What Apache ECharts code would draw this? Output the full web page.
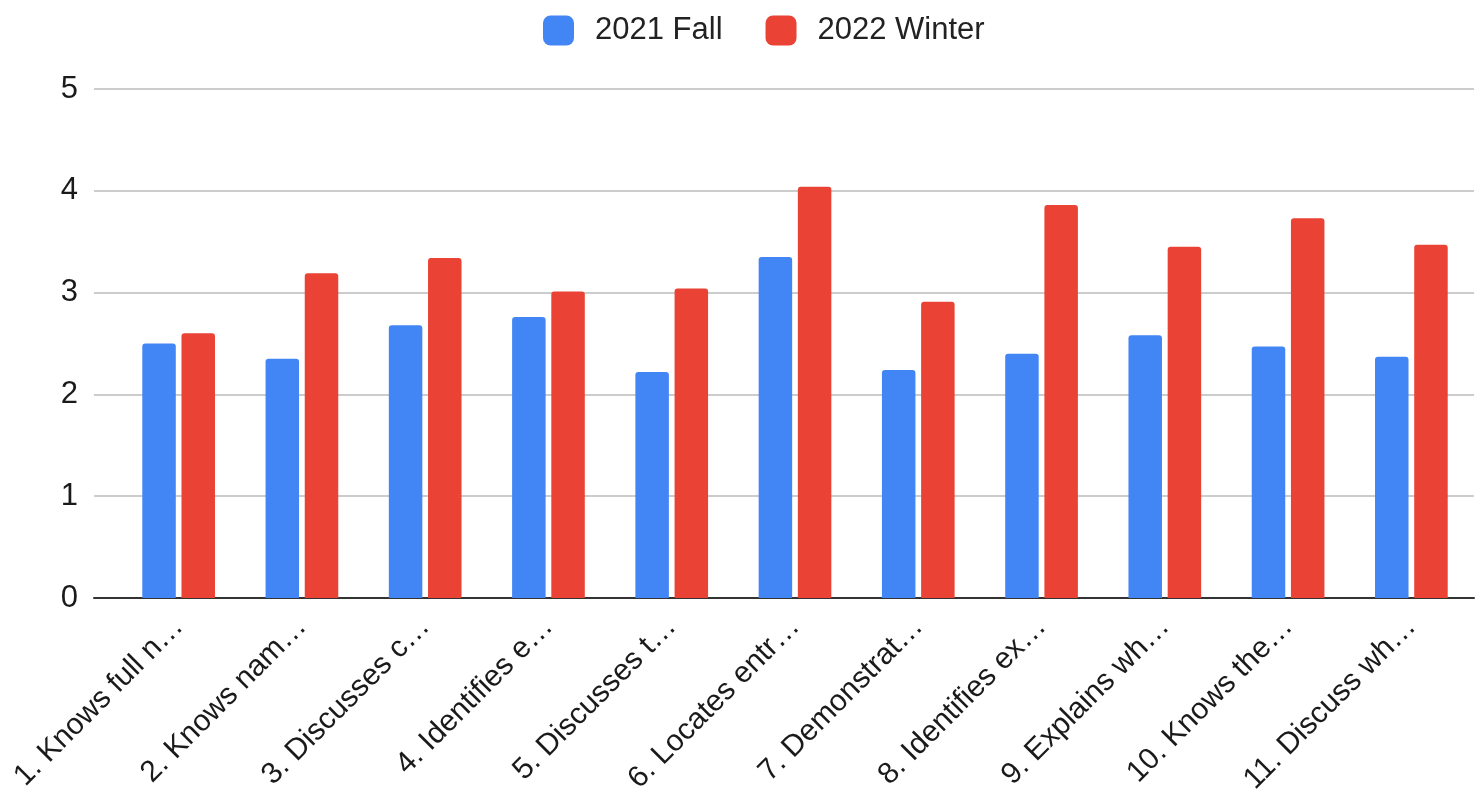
<!DOCTYPE html>
<html>
<head>
<meta charset="utf-8">
<script src="https://cdn.jsdelivr.net/npm/echarts@6/dist/echarts.min.js"></script>
<style>
html,body{margin:0;padding:0;background:#fff;}
#chart{width:1476px;height:800px;}
</style>
</head>
<body>
<div id="chart"></div>
<script>
const categories = [
  "1. Knows full n\u2026",
  "2. Knows nam\u2026",
  "3. Discusses c\u2026",
  "4. Identifies e\u2026",
  "5. Discusses t\u2026",
  "6. Locates entr\u2026",
  "7. Demonstrat\u2026",
  "8. Identifies ex\u2026",
  "9. Explains wh\u2026",
  "10. Knows the\u2026",
  "11. Discuss wh\u2026"
];
const fall2021 = [2.50, 2.35, 2.68, 2.76, 2.22, 3.35, 2.24, 2.40, 2.58, 2.47, 2.37];
const winter2022 = [2.60, 3.19, 3.34, 3.01, 3.04, 4.04, 2.91, 3.86, 3.45, 3.73, 3.47];
const yTicks = [0, 1, 2, 3, 4, 5];

const FONT = "'Liberation Sans', Arial, sans-serif";
const chart = echarts.init(document.getElementById('chart'));
chart.setOption({
  animation: false,
  backgroundColor: '#ffffff',
  textStyle: { fontFamily: FONT },
  legend: {
    left: 538,
    top: 10,
    itemWidth: 31,
    itemHeight: 30,
    itemGap: 43,
    icon: 'roundRect',
    textStyle: { fontSize: 31, color: '#222', fontFamily: FONT, padding: [0, 0, 0, 16] },
    data: ['2021 Fall', '2022 Winter']
  },
  grid: [
    { left: 94, right: 2, top: 89, bottom: 202, containLabel: false },
    { left: 117, right: 3, top: 89, bottom: 202, containLabel: false }
  ],
  xAxis: [
    {
      gridIndex: 0, type: 'category', data: [''],
      axisLine: { show: true, lineStyle: { color: '#333', width: 2 } },
      axisTick: { show: false }, axisLabel: { show: false }, splitLine: { show: false }
    },
    {
      gridIndex: 1, type: 'category', data: categories,
      axisLine: { show: false }, axisTick: { show: false },
      axisLabel: {
        interval: 0, rotate: 45, margin: 24,
        fontSize: 30, color: '#1a1a1a', fontFamily: FONT
      }
    }
  ],
  yAxis: [
    {
      gridIndex: 0, type: 'value', min: yTicks[0], max: yTicks[yTicks.length - 1], interval: 1,
      axisLine: { show: false }, axisTick: { show: false },
      axisLabel: { margin: 16, fontSize: 31, color: '#1a1a1a', fontFamily: FONT },
      splitLine: { lineStyle: { color: '#cccccc', width: 2 } }
    },
    {
      gridIndex: 1, type: 'value', min: 0, max: 5, interval: 1,
      show: false, splitLine: { show: false }
    }
  ],
  series: [
    {
      name: '2021 Fall', type: 'bar', xAxisIndex: 1, yAxisIndex: 1,
      data: fall2021, barWidth: 33.5, barGap: '17%',
      itemStyle: { color: '#4285F4', borderRadius: [3, 3, 0, 0] }
    },
    {
      name: '2022 Winter', type: 'bar', xAxisIndex: 1, yAxisIndex: 1,
      data: winter2022, barWidth: 33.5, barGap: '17%',
      itemStyle: { color: '#EA4335', borderRadius: [3, 3, 0, 0] }
    }
  ]
});
</script>
</body>
</html>
